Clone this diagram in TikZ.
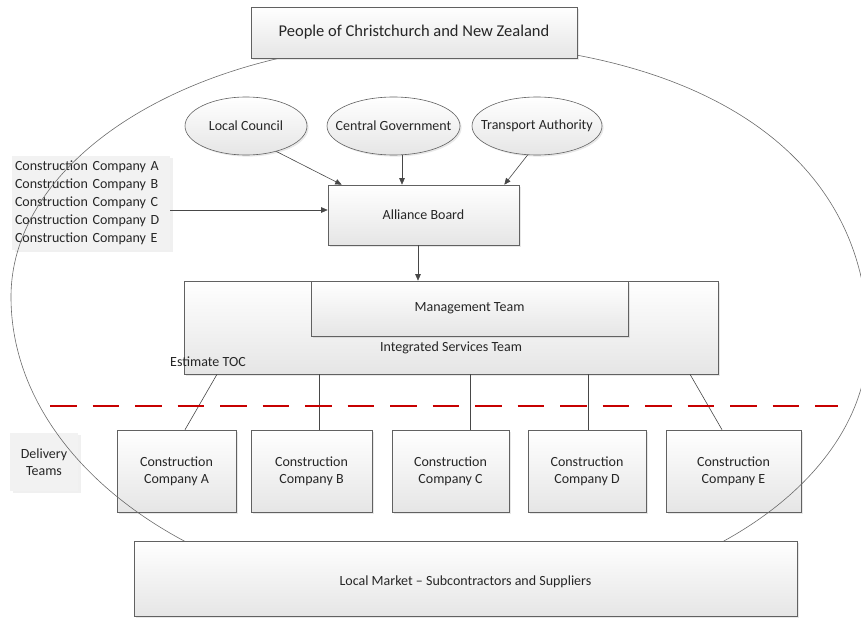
\documentclass[tikz,border=0pt]{standalone}
\usepackage{fontspec}
\setmainfont{Carlito}
\usetikzlibrary{arrows.meta,shadows,shapes.geometric,calc}
\begin{document}
\begin{tikzpicture}[x=1pt,y=-1pt,
  every node/.style={font=\fontsize{14}{17}\selectfont, text=black!85},
  box/.style={draw=black!62, line width=0.6pt, top color=white, bottom color=black!10,
    drop shadow={opacity=0.18, shadow xshift=1.6pt, shadow yshift=-1.6pt},
    inner sep=0pt, align=center},
  oval/.style={box, ellipse},
  soft/.style={fill=black!5, inner sep=0pt,
    drop shadow={opacity=0.12, shadow xshift=2.5pt, shadow yshift=-2pt}},
  link/.style={draw=black!72, line width=0.6pt},
  arrow/.style={link, -{Triangle[length=6.5pt,width=5.5pt]}},
  cutline/.style={draw=red!78!black, line width=2.2pt, dash pattern=on 26.5pt off 16pt},
  bigoval/.style={draw=black!58, line width=0.6pt},
]
\useasboundingbox (0,0) rectangle (861,618);

% integrated services team with management team inside
\node[box, minimum width=534pt, minimum height=93pt] (ist) at (451,327.5) {};
\node[box, minimum width=317pt, minimum height=55pt] (mgmt) at (469.5,308.5) {Management Team};
\node (istlabel) at (451,348) {Integrated Services Team};
\node (toc) at (208,362) {Estimate TOC};

% funding partners and the board
\node[oval, minimum width=122pt, minimum height=58pt] (council) at (246,126) {};
\node[oval, minimum width=133pt, minimum height=58pt] (govt) at (393.5,126) {};
\node[oval, minimum width=130pt, minimum height=58pt] (nzta) at (537,126) {};
\node (councillabel) at (council) {Local Council};
\node (govtlabel) at (govt) {Central Government};
\node (nztalabel) at (nzta) {Transport Authority};
\node[box, minimum width=191pt, minimum height=60pt] (board) at (423.5,215) {Alliance Board};

\draw[arrow] (council.-40) -- ([xshift=14pt]board.north west);
\draw[arrow] ([xshift=8.5pt]govt.south) -- ([xshift=8.5pt]govt.south |- board.north);
\draw[arrow] (nzta.-108) -- ([xshift=-15pt]board.north east);
\draw[arrow] ([xshift=-5.5pt]board.south) -- ([xshift=-5.5pt]board.south |- ist.north);

% companies listed on the left
\node[soft, minimum width=158pt, minimum height=94pt, text width=152pt, align=left,
      font=\fontsize{14}{18}\selectfont] (list) at (91,203)
  {Construction Company A\\Construction Company B\\Construction Company C\\Construction Company D\\Construction Company E};
\draw[arrow] ([yshift=-7pt]list.east) -- ([yshift=-7pt]list.east -| board.west);

% delivery teams
\node[soft, minimum width=68pt, minimum height=58pt, align=center] (delivery) at (44,462) {Delivery\\Teams};
\node[box, minimum width=119pt, minimum height=82pt] (ca) at (176.5,471) {Construction\\Company A};
\node[box, minimum width=121pt, minimum height=82pt] (cb) at (311.5,471) {Construction\\Company B};
\node[box, minimum width=117pt, minimum height=82pt] (cc) at (450.5,471) {Construction\\Company C};
\node[box, minimum width=118pt, minimum height=82pt] (cd) at (587,471) {Construction\\Company D};
\node[box, minimum width=135pt, minimum height=82pt] (ce) at (733.5,471) {Construction\\Company E};

\draw[link] ([xshift=-234pt]ist.south) -- ([xshift=8.5pt]ca.north);
\draw[link] ([xshift=7.5pt]cb.north |- ist.south) -- ([xshift=7.5pt]cb.north);
\draw[link] ([xshift=19.5pt]cc.north |- ist.south) -- ([xshift=19.5pt]cc.north);
\draw[link] ([xshift=1pt]cd.north |- ist.south) -- ([xshift=1pt]cd.north);
\draw[link] ([xshift=239pt]ist.south) -- ([xshift=-11.5pt]ce.north);

% boundary between alliance and delivery teams
\draw[cutline] (50,406) -- (838,406);

% the alliance
\draw[bigoval] (11,297)
  .. controls (11,156) and (196,42) .. (425,42)
  .. controls (695,42) and (868,150) .. (868,340)
  .. controls (868,486) and (683,605) .. (455,605)
  .. controls (210,605) and (11,467) .. cycle;

% outer stakeholders
\node[box, minimum width=326pt, minimum height=51pt, font=\fontsize{16.5}{19}\selectfont] (people) at (414,32.5) {People of Christchurch and New Zealand};
\node[box, minimum width=663pt, minimum height=75pt] (market) at (465.5,578.5) {};
\node (markettext) at (465.5,582) {Local Market -- Subcontractors and Suppliers};
\end{tikzpicture}
\end{document}
